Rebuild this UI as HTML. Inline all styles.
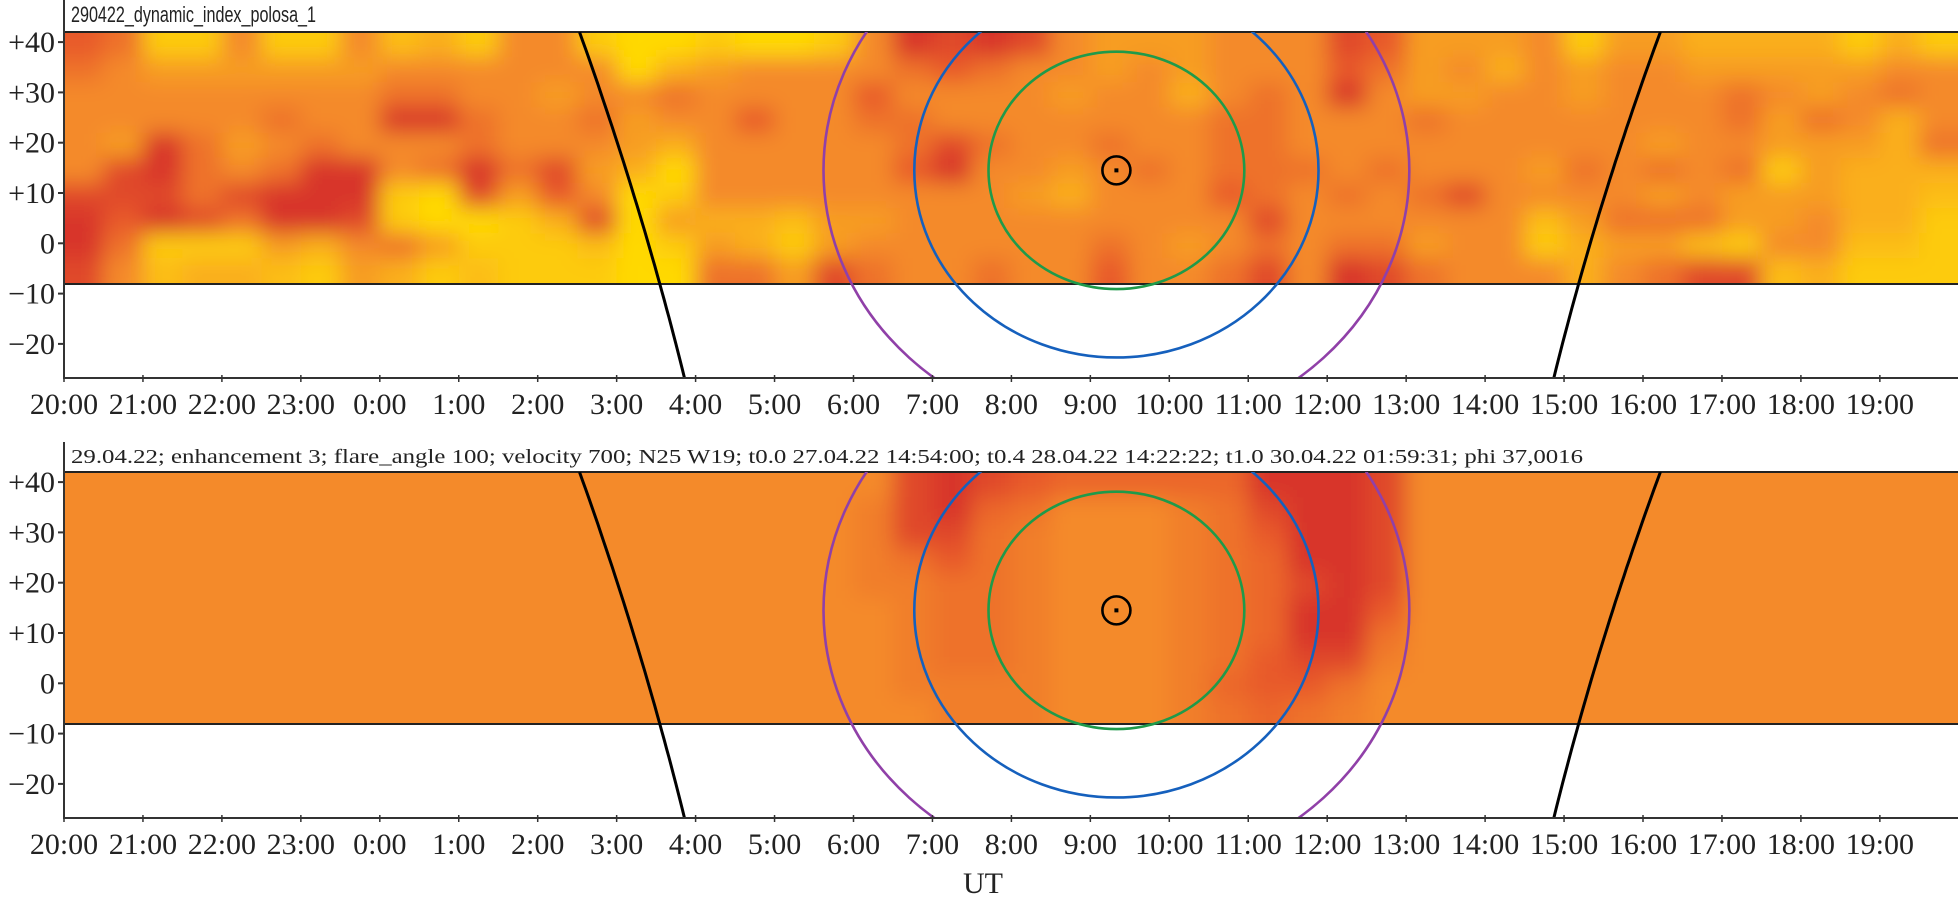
<!DOCTYPE html>
<html><head><meta charset="utf-8">
<style>
html,body{margin:0;padding:0;background:#fff;}
svg{display:block;}
.tick{font-family:"Liberation Serif",serif;font-size:30px;fill:#222;}
</style></head>
<body>
<svg id="chart" width="1958" height="904" viewBox="0 0 1958 904" xmlns="http://www.w3.org/2000/svg">
<defs>
<filter id="blur" x="-10%" y="-30%" width="120%" height="160%"><feGaussianBlur stdDeviation="11"/></filter>
<clipPath id="hm1"><rect x="64" y="32" width="1894" height="252"/></clipPath>
<clipPath id="hm2"><rect x="64" y="472" width="1894" height="252"/></clipPath>
<clipPath id="ov1"><rect x="64" y="32" width="1894" height="346"/></clipPath>
<clipPath id="ov2"><rect x="64" y="472" width="1894" height="346"/></clipPath>
</defs>
<g id="root"></g>
</svg>
<script>
// ---- data ----
const xTickLabels = ["20:00","21:00","22:00","23:00","0:00","1:00","2:00","3:00","4:00","5:00","6:00","7:00","8:00","9:00","10:00","11:00","12:00","13:00","14:00","15:00","16:00","17:00","18:00","19:00"];
const yTickValues = [40,30,20,10,0,-10,-20];
const yTickLabels = ["+40","+30","+20","+10","0","\u221210","\u221220"];
// top heatmap: columns = half hours from 20:00, each row list = 10 latitude bands (+42 down to -8), 0 yellow .. 9 red
const topGrid = [
[7,6,5,5,5,5,8,9,9,8],[6,5,5,5,4,8,8,7,6,5],[1,4,5,5,9,9,8,9,1,2],[1,4,5,5,6,6,6,8,1,3],
[5,4,5,5,4,5,8,6,1,3],[1,4,5,6,5,6,9,9,4,2],[1,4,5,5,6,9,9,9,3,1],[5,4,5,5,5,9,9,8,5,4],
[2,5,6,9,5,5,1,1,6,3],[3,5,6,9,5,6,0,0,4,1],[1,5,5,6,6,9,8,0,1,2],[5,5,5,5,5,6,4,1,1,1],
[5,5,4,5,5,8,7,3,1,1],[1,5,5,6,5,4,5,8,2,1],[0,0,5,4,4,3,0,0,0,0],[0,3,6,5,3,0,1,4,1,0],
[1,4,5,5,5,5,5,3,4,6],[0,5,5,7,5,5,5,3,3,6],[0,5,5,5,5,5,5,2,1,4],[1,5,5,5,5,5,5,4,4,8],
[5,5,7,6,5,5,5,4,5,6],[9,6,5,6,6,7,5,5,5,5],[8,7,5,5,8,9,5,5,5,5],[9,6,5,5,6,5,5,5,5,6],
[8,5,5,5,5,5,4,5,5,5],[5,5,4,5,5,4,3,5,5,5],[4,4,5,5,6,5,5,5,6,7],[4,5,5,5,5,6,5,5,5,5],
[4,4,3,5,5,5,5,5,4,5],[5,5,5,6,6,6,7,5,5,6],[5,5,6,6,6,6,6,8,6,8],[5,5,5,5,5,6,5,5,5,5],
[8,7,9,5,5,5,6,5,6,9],[7,6,5,5,5,6,5,5,6,8],[4,4,4,6,5,5,6,5,4,6],[4,5,4,5,5,5,8,5,5,5],
[4,3,5,5,5,5,5,5,5,5],[5,5,5,5,5,4,5,2,1,5],[1,4,4,5,5,6,5,4,3,3],[4,5,5,5,5,5,5,6,4,5],
[4,5,5,5,4,6,4,6,4,6],[3,4,5,5,5,5,5,6,2,8],[3,4,6,6,5,6,4,4,1,8],[3,4,5,4,4,1,4,4,5,2],
[3,4,4,6,4,4,4,5,5,3],[1,4,5,5,4,3,3,3,2,1],[3,5,6,3,3,3,3,3,2,1],[1,5,5,5,6,3,2,1,1,1]
];
// bottom (model) heatmap: only columns differing from base value 5
const bottomBase = 5;
const bottomCols = [20,21,22,23,24,25,26,27,28,29,30,31,32,33];
const bottomVals = [
[5,5.5,5.5,5.5,5.5,5,5,5,5,5],
[8,8,8,6,5.5,5.5,5.5,5.5,5.5,5],
[9,9,8,7,6,6,6,6,5.5,5.5],
[8,6.5,6,6,6,6,6,6,5.5,5.5],
[7,6,5.5,5.5,5.5,5.5,5.5,5.5,5.5,5.5],
[6.5,5,5,5,5,5,5,5,5,5],
[6.5,5,5,5,5,5,5,5,5,5],
[6.5,5,5,5,5,5,5,5,5,5],
[6.5,5.5,5.5,5.5,5.5,5.5,5.5,5.5,5.5,5.5],
[6.5,6,6,6,6,6,6,6,6.5,6],
[9,8,7,6.5,6.5,6.5,6.5,7,7,6.5],
[9,9,9,9,8,9,9,8,7,6],
[9,9,9,9,9,9,9,8,6,5.5],
[8,8,8,8,8,7,6,5.5,5,5]
];
// overlay geometry in data units (hours since 20:00, latitude deg)
const centerHour = 13.33, centerLat = 14.5;
const ringRx = [1.62, 2.56, 3.71];
const ringRy = [23.6, 37.2, 52.7];
const ringColors = ["#1f9a4a","#1560bd","#9040a8"];
const leftCurveH = [6.53, 7.07, 7.86];
const leftCurveLat = [42, 17, -26.8];
const rightCurveH = [20.22, 19.61, 18.87];
const rightCurveLat = [42, 14.2, -26.8];

// ---- scales ----
const X0 = 64, PXH = 78.95;
function xs(h){ return X0 + h*PXH; }
function ys(lat, off){ return 243.3 - lat*5.03 + off; }
const NS = "http://www.w3.org/2000/svg";
function mk(tag, attrs, parent){ const e=document.createElementNS(NS,tag); for(const k in attrs) e.setAttribute(k,attrs[k]); parent.appendChild(e); return e; }
const stops = [[0,[255,217,0]],[3,[250,175,30]],[5,[244,138,42]],[7,[232,90,42]],[9,[216,54,42]]];
function cmap(v){
  for(let i=1;i<stops.length;i++){ if(v<=stops[i][0]){ const a=stops[i-1],b=stops[i]; const t=(v-a[0])/(b[0]-a[0]);
    return "rgb("+a[1].map((c,j)=>Math.round(c+(b[1][j]-c)*t)).join(",")+")"; } }
  return "rgb(216,54,42)";
}
const root = document.getElementById('root');

function drawHeat(panel, off, getVal){
  const clip = mk('g',{'clip-path':'url(#hm'+panel+')'},root);
  
  
  const g = mk('g',{filter:'url(#blur)'},clip);
  for(let c=0;c<48;c++){
    for(let r=0;r<10;r++){
      let x=xs(c*0.5), w=PXH*0.5+1;
      let y=ys(42-r*5,off), h=5*5.03+1;
      if(c===0){x-=40;w+=40;} if(c===47){w+=50;}
      if(r===0){y-=40;h+=40;} if(r===9){h+=40;}
      const rc = mk('rect',{x:x,y:y,width:w,height:h,fill:cmap(getVal(c,r))},g);
      
      
    }
  }
}
drawHeat(1,0,(c,r)=>topGrid[c][r]);
drawHeat(2,440,(c,r)=>{ const i=bottomCols.indexOf(c); return i<0?bottomBase:bottomVals[i][r]; });

function curvePath(hs, lats, off){
  const p = hs.map((h,i)=>[xs(h), ys(lats[i],off)]);
  // quadratic through 3 points (parametric, t=0, 0.5-ish, 1)
  const t1 = (p[1][1]-p[0][1])/(p[2][1]-p[0][1]);
  let d="";
  for(let k=0;k<=40;k++){
    const t=k/40;
    const L0=((t-t1)*(t-1))/((0-t1)*(0-1)), L1=((t-0)*(t-1))/((t1-0)*(t1-1)), L2=((t-0)*(t-t1))/((1-0)*(1-t1));
    const x=L0*p[0][0]+L1*p[1][0]+L2*p[2][0];
    const y=p[0][1]+t*(p[2][1]-p[0][1]);
    d+=(k?" L":"M")+x.toFixed(1)+","+y.toFixed(1);
  }
  return d;
}

function drawPanel(panel, off, title, titleLen, titleFont){
  const bt = mk('line',{x1:64,x2:1958,y1:ys(42,off),y2:ys(42,off),stroke:'#222','stroke-width':2},root);
   
  const bb = mk('line',{x1:64,x2:1958,y1:ys(-8.1,off),y2:ys(-8.1,off),stroke:'#222','stroke-width':2},root);
   
  const ov = mk('g',{'clip-path':'url(#ov'+panel+')'},root);
   
  for(let i=ringRx.length-1;i>=0;i--){
    const e = mk('ellipse',{cx:xs(centerHour),cy:ys(centerLat,off),rx:ringRx[i]*PXH,ry:ringRy[i]*5.03,fill:'none',stroke:ringColors[i],'stroke-width':2.6},ov);
     
  }
  const l1 = mk('path',{d:curvePath(leftCurveH,leftCurveLat,off),fill:'none',stroke:'#000','stroke-width':3},ov);
   
  const l2 = mk('path',{d:curvePath(rightCurveH,rightCurveLat,off),fill:'none',stroke:'#000','stroke-width':3},ov);
   
  const m = mk('circle',{cx:xs(centerHour),cy:ys(centerLat,off),r:14,fill:'none',stroke:'#000','stroke-width':2.6},ov);
   
  const md = mk('rect',{x:xs(centerHour)-2,y:ys(centerLat,off)-2,width:4,height:4,fill:'#000'},ov);
   
  const top = off===0?0:442;
  const ax = mk('line',{x1:64,x2:64,y1:top,y2:378+off,stroke:'#333','stroke-width':2},root);
   
  const bx = mk('line',{x1:63,x2:1958,y1:378+off,y2:378+off,stroke:'#333','stroke-width':2},root);
   
  yTickValues.forEach((v,i)=>{
    const y=ys(v,off);
    const tk = mk('line',{x1:58,x2:64,y1:y,y2:y,stroke:'#333','stroke-width':2},root);
     
    const t = mk('text',{x:55,y:y+10,'text-anchor':'end','class':'tick'},root);
    t.textContent=yTickLabels[i];
     
  });
  xTickLabels.forEach((lab,i)=>{
    const x=xs(i);
    const tk = mk('line',{x1:x,x2:x,y1:375+off,y2:382+off,stroke:'#333','stroke-width':1.5},root);
     
    const t = mk('text',{x:x,y:414+off,'text-anchor':'middle','class':'tick'},root);
    t.textContent=lab;
     
  });
  const tt = mk('text',{x:71,y:(off===0?22:463),'font-size':(off===0?22:20),'font-family':titleFont,fill:'#222',textLength:titleLen,lengthAdjust:'spacingAndGlyphs'},root);
  tt.textContent=title;
   
}
drawPanel(1,0,"290422_dynamic_index_polosa_1",245,'"Liberation Sans", sans-serif');
drawPanel(2,440,"29.04.22; enhancement 3; flare_angle 100; velocity 700; N25 W19; t0.0 27.04.22 14:54:00; t0.4 28.04.22 14:22:22; t1.0 30.04.22 01:59:31; phi 37,0016",1512,'"Liberation Serif", serif');
const ut = mk('text',{x:983,y:893,'text-anchor':'middle','class':'tick'},root);
ut.textContent="UT";


</script>
</body></html>
